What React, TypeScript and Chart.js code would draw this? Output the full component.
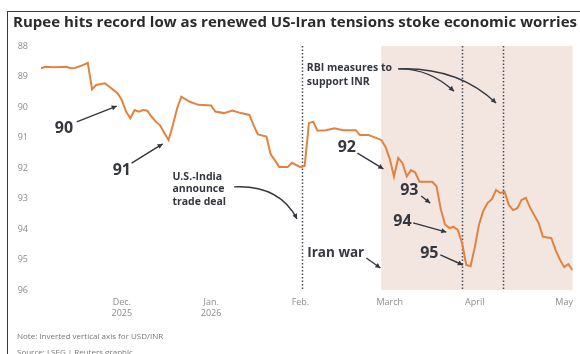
import React, { useEffect, useRef } from "react";
import { Chart, registerables } from "chart.js";

Chart.register(...registerables);

// Trading-day index (0 = early Nov 2025) and USD/INR close
const tradingDay = [
  0, 1, 3, 6, 7, 8, 10, 11, 12, 13, 15, 16, 18, 19, 20, 21, 22, 23, 24, 25,
  26, 27, 28, 29, 30, 31, 32, 33, 35, 37, 40, 41, 43, 45, 47, 49, 50, 51, 53, 54,
  55, 56, 58, 59, 61, 62, 63, 64, 65, 67, 69, 71, 74, 75, 77, 78, 80, 81, 82, 83,
  84, 85, 86, 87, 88, 89, 92, 93, 94, 95, 96, 97, 98, 99, 100, 101, 102, 103, 104, 105,
  106, 107, 108, 109, 110, 111, 112, 113, 114, 115, 117, 118, 120, 121, 122, 123, 124, 125,
];
const usdInr = [
  88.73, 88.68, 88.7, 88.68, 88.73, 88.72, 88.62, 88.55, 89.42, 89.28, 89.22, 89.33, 89.55, 89.77, 90.15, 90.37, 90.1, 90.15, 90.1, 90.12,
  90.32, 90.48, 90.6, 90.85, 91.08, 90.6, 90.05, 89.66, 89.83, 89.93, 89.95, 90.15, 90.2, 90.12, 90.2, 90.26, 90.6, 90.9, 90.97, 91.55,
  91.75, 91.97, 91.97, 91.83, 91.97, 91.93, 90.53, 90.48, 90.78, 90.76, 90.7, 90.76, 90.76, 90.92, 90.92, 90.97, 91.08, 91.3, 91.7, 92.28,
  91.67, 91.84, 92.28, 92.07, 92.15, 92.45, 92.45, 92.6, 93.35, 93.85, 93.97, 93.93, 94.03, 94.46, 95.18, 95.22, 94.6, 93.85, 93.4, 93.15,
  93.02, 92.72, 92.82, 92.78, 93.21, 93.38, 93.32, 93.05, 92.98, 93.3, 93.8, 94.25, 94.3, 94.69, 95.0, 95.25, 95.15, 95.35,
];

const yMin = 88;
const yMax = 96;
const xMax = 125;
const monthTickDays = [19, 40, 61, 82, 102, 123];
const monthTickLabels: (string | string[])[] = [
  ["Dec.", "2025"],
  ["Jan.", "2026"],
  "Feb.",
  "March",
  "April",
  "May",
];

const tradeDealDay = 61.4;
const rbiDays = [99.1, 108.7];
const warStartDay = 80;

// Annotation labels in data coordinates (trading day, rupees per dollar)
const levelLabels = [
  { text: "90", x: 5.4, y: 90.69, from: [8.4, 90.49], to: [17.8, 89.97] },
  { text: "91", x: 19.0, y: 92.07, from: [21.3, 91.84], to: [28.6, 91.21] },
  { text: "92", x: 71.9, y: 91.34, from: [74.4, 91.51], to: [80.5, 92.03] },
  { text: "93", x: 86.6, y: 92.75, from: [89.4, 92.92], to: [91.5, 93.15] },
  { text: "94", x: 85.0, y: 93.74, from: [87.5, 93.8], to: [95.3, 94.1] },
  { text: "95", x: 91.3, y: 94.79, from: [93.9, 94.85], to: [99.2, 95.18] },
];

const dealText = ["U.S.-India", "announce", "trade deal"];
const rbiText = ["RBI measures to", "support INR"];

const INK = "#35373f";

function drawArrow(
  ctx: CanvasRenderingContext2D,
  x1: number, y1: number, x2: number, y2: number,
  cx?: number, cy?: number
) {
  ctx.save();
  ctx.strokeStyle = INK;
  ctx.fillStyle = INK;
  ctx.lineWidth = 1.4;
  ctx.beginPath();
  ctx.moveTo(x1, y1);
  let tx = x2 - x1, ty = y2 - y1;
  if (cx !== undefined && cy !== undefined) {
    ctx.quadraticCurveTo(cx, cy, x2, y2);
    tx = x2 - cx; ty = y2 - cy;
  } else {
    ctx.lineTo(x2, y2);
  }
  ctx.stroke();
  const a = Math.atan2(ty, tx);
  const L = 5, W = 2.6;
  ctx.beginPath();
  ctx.moveTo(x2, y2);
  ctx.lineTo(x2 - L * Math.cos(a) + W * Math.sin(a), y2 - L * Math.sin(a) - W * Math.cos(a));
  ctx.lineTo(x2 - L * Math.cos(a) - W * Math.sin(a), y2 - L * Math.sin(a) + W * Math.cos(a));
  ctx.closePath();
  ctx.fill();
  ctx.restore();
}

const annotationPlugin = {
  id: "rupeeAnnotations",
  beforeDatasetsDraw(chart: any) {
    const { ctx, chartArea, scales } = chart;
    const xs = scales.x;
    ctx.save();
    // Iran war shading
    const sx = xs.getPixelForValue(warStartDay);
    ctx.fillStyle = "#f3e6e0";
    ctx.fillRect(sx, chartArea.top, chartArea.right - sx, chartArea.bottom - chartArea.top);
    // dotted event lines
    ctx.strokeStyle = "#4a4c55";
    ctx.lineWidth = 1.5;
    ctx.setLineDash([1.5, 2]);
    [tradeDealDay, ...rbiDays].forEach((d) => {
      const px = Math.round(xs.getPixelForValue(d)) + 0.5;
      ctx.beginPath();
      ctx.moveTo(px, chartArea.top);
      ctx.lineTo(px, chartArea.bottom);
      ctx.stroke();
    });
    ctx.restore();
  },
  afterDatasetsDraw(chart: any) {
    const { ctx, scales } = chart;
    const X = (v: number) => scales.x.getPixelForValue(v);
    const Y = (v: number) => scales.y.getPixelForValue(v);
    ctx.save();
    ctx.fillStyle = INK;
    ctx.textBaseline = "middle";
    ctx.textAlign = "center";
    ctx.font = "700 16px 'Open Sans'";
    levelLabels.forEach((l) => {
      ctx.fillText(l.text, X(l.x), Y(l.y));
      drawArrow(ctx, X(l.from[0]), Y(l.from[1]), X(l.to[0]), Y(l.to[1]));
    });
    // Iran war
    ctx.font = "700 13.5px 'Open Sans'";
    ctx.fillText("Iran war", X(69.3), Y(94.79));
    drawArrow(ctx, X(76.5), Y(94.95), X(79.8), Y(95.28));
    // Trade deal
    ctx.textAlign = "left";
    ctx.font = "700 10.5px 'Open Sans'";
    const dealLines = [92.3, 92.69, 93.11];
    dealText.forEach((t, i) => ctx.fillText(t, X(30.9), Y(dealLines[i])));
    drawArrow(ctx, X(45.4), Y(92.62), X(60.2), Y(93.67), X(56), Y(92.55));
    // RBI
    const rbiLines = [88.72, 89.18];
    rbiText.forEach((t, i) => ctx.fillText(t, X(62.5), Y(rbiLines[i])));
    drawArrow(ctx, X(84.0), Y(88.75), X(97.1), Y(89.48), X(91.1), Y(88.72));
    drawArrow(ctx, X(84.0), Y(88.75), X(107.0), Y(89.87), X(98.0), Y(88.68));
    ctx.restore();
  },
};

export default function App() {
  const canvasRef = useRef<HTMLCanvasElement | null>(null);

  useEffect(() => {
    if (!canvasRef.current) return;
    const chart = new Chart(canvasRef.current, {
      type: "line",
      data: {
        datasets: [
          {
            label: "USD/INR",
            data: tradingDay.map((d, i) => ({ x: d, y: usdInr[i] })),
            borderColor: "#e2823f",
            borderWidth: 2,
            pointRadius: 0,
            tension: 0,
            fill: false,
          },
        ],
      },
      options: {
        animation: false,
        responsive: false,
        events: [],
        layout: { padding: { top: 46, right: 5, left: 0, bottom: 34 } },
        plugins: {
          legend: { display: false },
          tooltip: { enabled: false },
          title: { display: false },
        },
        scales: {
          x: {
            type: "linear",
            min: 0,
            max: xMax,
            grid: { display: false, drawTicks: false },
            border: { display: false },
            afterBuildTicks: (scale: any) => {
              scale.ticks = monthTickDays.map((v) => ({ value: v }));
            },
            afterFit: (scale: any) => {
              scale.height = 30;
            },
            ticks: {
              autoSkip: false,
              maxRotation: 0,
              padding: 7,
              color: "#8c8c8c",
              font: { family: "'Open Sans'", size: 9 },
              callback: (value: any) => {
                const i = monthTickDays.indexOf(Number(value));
                return i >= 0 ? monthTickLabels[i] : "";
              },
            },
          },
          y: {
            type: "linear",
            reverse: true,
            min: yMin,
            max: yMax,
            grid: { display: false, drawTicks: false },
            border: { display: false },
            afterFit: (scale: any) => {
              scale.width = 41;
            },
            ticks: {
              stepSize: 1,
              padding: 13,
              color: "#8c8c8c",
              font: { family: "'Open Sans'", size: 9 },
            },
          },
        },
      },
      plugins: [annotationPlugin],
    } as any);
    return () => chart.destroy();
  }, []);

  return (
    <div
      style={{
        position: "absolute",
        left: 0,
        top: 0,
        width: 580,
        height: 354,
        background: "#fff",
        overflow: "hidden",
        fontFamily: "'Open Sans', sans-serif",
      }}
    >
      <div
        style={{
          position: "absolute",
          left: 7,
          top: 11,
          width: 580,
          height: 360,
          borderLeft: "1.5px solid #3a3a3a",
          borderTop: "1.5px solid #3a3a3a",
        }}
      />
      <canvas
        ref={canvasRef}
        width={580}
        height={354}
        style={{ position: "absolute", left: 0, top: 0, width: 580, height: 354 }}
      />
      <div
        style={{
          position: "absolute",
          left: 13,
          top: 11,
          fontSize: 15,
          fontWeight: 700,
          color: "#2b2b2b",
          whiteSpace: "nowrap",
          letterSpacing: 0.04,
        }}
      >
        Rupee hits record low as renewed US-Iran tensions stoke economic worries
      </div>
      <div
        style={{
          position: "absolute",
          left: 17,
          top: 330,
          fontSize: 8,
          color: "#777",
          whiteSpace: "nowrap",
        }}
      >
        Note: Inverted vertical axis for USD/INR
      </div>
      <div
        style={{
          position: "absolute",
          left: 17,
          top: 346,
          fontSize: 8,
          color: "#777",
          whiteSpace: "nowrap",
        }}
      >
        Source: LSEG | Reuters graphic
      </div>
    </div>
  );
}
